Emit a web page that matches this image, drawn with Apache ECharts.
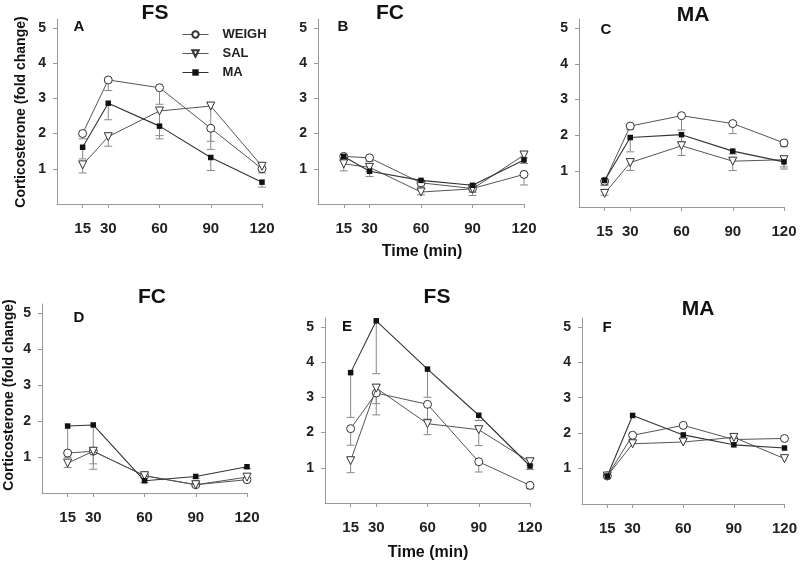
<!DOCTYPE html>
<html>
<head>
<meta charset="utf-8">
<script src="https://cdn.jsdelivr.net/npm/echarts@6/dist/echarts.min.js"></script>
<style>
html,body{margin:0;padding:0;background:#fff;}
#chart{width:800px;height:562px;}
</style>
</head>
<body>
<div id="chart"></div>
<script>
// ---- data ----
const times = [15, 30, 60, 90, 120];
const xTickLabels = [15, 30, 60, 90, 120];
const yTickLabels = [1, 2, 3, 4, 5];
const seriesNames = ['WEIGH', 'SAL', 'MA'];
const panelLetters = ['A', 'B', 'C', 'D', 'E', 'F'];
const panelTitles = ['FS', 'FC', 'MA', 'FC', 'FS', 'MA'];

// Panel A (FS)
const weighA = [2.0, 3.52, 3.30, 2.15, 1.0];
const weighAErr = [0.15, 0.3, 0.47, 0.6, 0.12];
const salA = [1.11, 1.91, 2.64, 2.78, 1.07];
const salAErr = [0.23, 0.27, 0.7, 1.0, 0.1];
const maA = [1.61, 2.86, 2.21, 1.32, 0.62];
const maAErr = [0.33, 0.47, 0.36, 0.37, 0.14];
// Panel B (FC)
const weighB = [1.35, 1.31, 0.6, 0.44, 0.84];
const weighBErr = [0.1, 0.1, 0.12, 0.2, 0.3];
const salB = [1.14, 1.04, 0.34, 0.43, 1.39];
const salBErr = [0.2, 0.12, 0.08, 0.1, 0.08];
const maB = [1.35, 0.93, 0.67, 0.53, 1.25];
const maBErr = [0.08, 0.15, 0.1, 0.05, 0.1];
// Panel C (MA)
const weighC = [0.72, 2.26, 2.55, 2.33, 1.79];
const weighCErr = [0.1, 0.1, 0.4, 0.28, 0.11];
const salC = [0.38, 1.24, 1.71, 1.28, 1.32];
const salCErr = [0.05, 0.22, 0.27, 0.26, 0.2];
const maC = [0.74, 1.94, 2.02, 1.56, 1.26];
const maCErr = [0.14, 0.4, 0.2, 0.08, 0.2];
// Panel D (FC)
const weighD = [1.11, 1.16, 0.48, 0.23, 0.37];
const weighDErr = [0.12, 0.35, 0.05, 0.04, 0.05];
const salD = [0.83, 1.16, 0.48, 0.23, 0.44];
const salDErr = [0.12, 0.5, 0.05, 0.04, 0.1];
const maD = [1.86, 1.89, 0.34, 0.46, 0.73];
const maDErr = [0.7, 0.7, 0.05, 0.05, 0.05];
// Panel E (FS)
const weighE = [2.11, 3.12, 2.80, 1.17, 0.5];
const weighEErr = [0.47, 0.3, 0.42, 0.29, 0.1];
const salE = [1.2, 3.26, 2.25, 2.08, 1.17];
const salEErr = [0.34, 0.76, 0.31, 0.45, 0.1];
const maE = [3.70, 5.17, 3.80, 2.49, 1.05];
const maEErr = [1.27, 1.5, 0.8, 0.15, 0.1];
// Panel F (MA)
const weighF = [0.79, 1.94, 2.22, 1.82, 1.85];
const weighFErr = [0, 0, 0, 0, 0];
const salF = [0.79, 1.7, 1.75, 1.88, 1.28];
const salFErr = [0, 0, 0, 0, 0];
const maF = [0.79, 2.5, 1.95, 1.67, 1.58];
const maFErr = [0, 0, 0, 0, 0];

const panelData = [
  [[weighA, weighAErr], [salA, salAErr], [maA, maAErr]],
  [[weighB, weighBErr], [salB, salBErr], [maB, maBErr]],
  [[weighC, weighCErr], [salC, salCErr], [maC, maCErr]],
  [[weighD, weighDErr], [salD, salDErr], [maD, maDErr]],
  [[weighE, weighEErr], [salE, salEErr], [maE, maEErr]],
  [[weighF, weighFErr], [salF, salFErr], [maF, maFErr]]
];

// ---- layout ----
const grids = [
  {left: 57, top: 19, width: 205, height: 185},
  {left: 318, top: 19, width: 206, height: 185},
  {left: 579, top: 19, width: 205, height: 188},
  {left: 42, top: 304, width: 205, height: 189},
  {left: 325, top: 318, width: 205, height: 185},
  {left: 582, top: 318, width: 205, height: 186}
];
const titlePos = [[155, 13], [390, 13], [693, 15], [152, 297], [437, 297], [698, 309]];
const letterPos = [[79, 27], [343, 27], [606, 30], [79, 318], [347, 327], [607, 328]];

const FONT = '"Liberation Sans", Arial, sans-serif';
const axisColor = '#999';

const styles = [
  {symbol: 'circle', symbolSize: 8, symbolRotate: 0, itemStyle: {color: '#fff', borderColor: '#333', borderWidth: 1}, lineStyle: {color: '#555', width: 1}},
  {symbol: 'triangle', symbolSize: 8, symbolRotate: 180, itemStyle: {color: '#fff', borderColor: '#333', borderWidth: 1}, lineStyle: {color: '#555', width: 1}},
  {symbol: 'rect', symbolSize: 5.5, symbolRotate: 0, itemStyle: {color: '#111', borderColor: '#111', borderWidth: 0}, lineStyle: {color: '#333', width: 1.1}}
];

const xAxes = [], yAxes = [], series = [];
grids.forEach((g, i) => {
  xAxes.push({
    gridIndex: i, type: 'value', min: 0, max: 120,
    axisLine: {show: true, onZero: false, lineStyle: {color: axisColor, width: 1}},
    axisTick: {show: true, customValues: xTickLabels, length: 4, lineStyle: {color: axisColor}},
    axisLabel: {customValues: xTickLabels, margin: 17, fontSize: 15, fontWeight: 'bold', color: '#222', fontFamily: FONT},
    splitLine: {show: false}
  });
  yAxes.push({
    gridIndex: i, type: 'value', min: 0, max: 5.25,
    axisLine: {show: true, lineStyle: {color: axisColor, width: 1}},
    axisTick: {show: true, customValues: yTickLabels, length: 4, lineStyle: {color: axisColor}},
    axisLabel: {customValues: yTickLabels, margin: 11, fontSize: 14, fontWeight: 'bold', color: '#222', fontFamily: FONT},
    splitLine: {show: false}
  });
  panelData[i].forEach((pair, s) => {
    const vals = pair[0], errs = pair[1];
    // error bars (downward)
    series.push({
      type: 'custom', name: seriesNames[s] + ' err', xAxisIndex: i, yAxisIndex: i, z: 1,
      silent: true,
      data: times.map((t, k) => [t, vals[k], vals[k] - errs[k], errs[k]]),
      renderItem: function (params, api) {
        if (api.value(3) <= 0) return null;
        const top = api.coord([api.value(0), api.value(1)]);
        const bot = api.coord([api.value(0), api.value(2)]);
        const cw = 4;
        const st = {stroke: '#888', lineWidth: 1, fill: null};
        return {type: 'group', children: [
          {type: 'line', shape: {x1: top[0], y1: top[1], x2: bot[0], y2: bot[1]}, style: st},
          {type: 'line', shape: {x1: bot[0] - cw, y1: bot[1], x2: bot[0] + cw, y2: bot[1]}, style: st}
        ]};
      }
    });
    const st = styles[s];
    series.push({
      type: 'line', name: seriesNames[s], xAxisIndex: i, yAxisIndex: i, z: 3 + s,
      data: times.map((t, k) => [t, vals[k]]),
      symbol: st.symbol, symbolSize: st.symbolSize, symbolRotate: st.symbolRotate,
      showAllSymbol: true,
      itemStyle: st.itemStyle, lineStyle: st.lineStyle,
      emphasis: {disabled: true}
    });
  });
});

const graphics = [];
panelTitles.forEach((t, i) => {
  graphics.push({type: 'text', x: titlePos[i][0], y: titlePos[i][1], silent: true,
    style: {text: t, font: 'bold 21px ' + FONT, fill: '#111', textAlign: 'center', textVerticalAlign: 'middle'}});
  graphics.push({type: 'text', x: letterPos[i][0], y: letterPos[i][1], silent: true,
    style: {text: panelLetters[i], font: 'bold 15px ' + FONT, fill: '#111', textAlign: 'center', textVerticalAlign: 'middle'}});
});
const yName = 'Corticosterone (fold change)';
[[21, 112], [9, 395]].forEach(p => {
  graphics.push({type: 'text', x: p[0], y: p[1], rotation: Math.PI / 2, silent: true,
    style: {text: yName, font: 'bold 14px ' + FONT, fill: '#111', textAlign: 'center', textVerticalAlign: 'middle'}});
});
[[422, 252], [428, 553]].forEach(p => {
  graphics.push({type: 'text', x: p[0], y: p[1], silent: true,
    style: {text: 'Time (min)', font: 'bold 16px ' + FONT, fill: '#111', textAlign: 'center', textVerticalAlign: 'middle'}});
});

const chart = echarts.init(document.getElementById('chart'), null, {renderer: 'canvas'});
chart.setOption({
  animation: false,
  backgroundColor: '#fff',
  grid: grids,
  xAxis: xAxes,
  yAxis: yAxes,
  legend: {
    data: seriesNames, orient: 'vertical', left: 182, top: 28, padding: 0,
    itemWidth: 26, itemHeight: 8, itemGap: 6,
    lineStyle: {width: 1},
    textStyle: {fontSize: 13, fontWeight: 'bold', color: '#222', fontFamily: FONT, padding: [0, 0, 0, 9]},
    selectedMode: false
  },
  graphic: graphics,
  series: series
});
</script>
</body>
</html>
